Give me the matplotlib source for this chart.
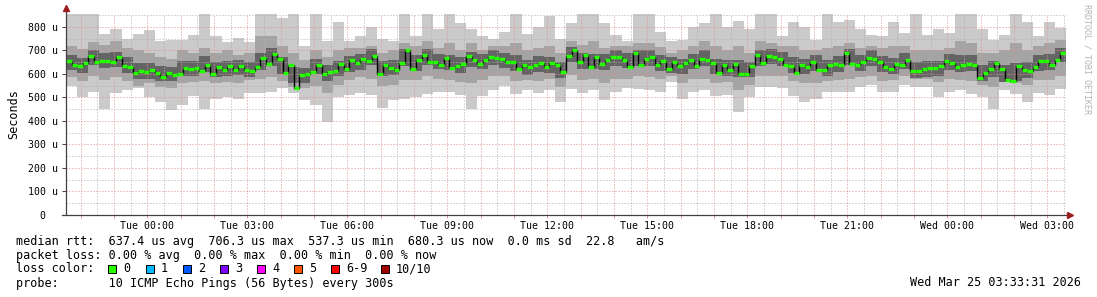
import matplotlib
matplotlib.use('Agg')
import matplotlib.pyplot as plt
import numpy as np
from matplotlib.patches import Rectangle

# time axis in hours relative to Tue 00:00
t_start = -2.4414
t_end = 27.5586

# median rtt (us), 10 minute steps
med_rtt = [
    655, 640, 632, 645, 678, 650, 655, 653, 650, 670, 635, 630, 602, 612, 608, 615, 606, 585, 603, 596, 600, 625, 622, 624, 612, 640,
    600, 628, 615, 635, 616, 635, 617, 613, 630, 667, 644, 685, 664, 605, 640, 540, 595, 600, 610, 640, 601, 610, 612, 643, 620, 660,
    645, 665, 655, 678, 600, 640, 625, 615, 648, 700, 620, 660, 680, 652, 650, 636, 667, 627, 633, 644, 675, 660, 641, 661, 672, 667,
    662, 650, 650, 622, 640, 630, 636, 647, 631, 648, 638, 608, 675, 700, 650, 680, 630, 674, 643, 660, 674, 671, 660, 630, 690, 640,
    665, 672, 640, 657, 620, 652, 635, 648, 660, 635, 665, 660, 645, 605, 640, 615, 643, 600, 600, 635, 680, 646, 675, 670, 662,
    640, 635, 606, 640, 628, 652, 615, 618, 640, 642, 636, 690, 642, 640, 650, 668, 664, 650, 628, 622, 643, 640, 660, 612, 614, 620,
    625, 624, 635, 655, 645, 630, 640, 643, 636, 584, 605, 622, 648, 620, 575, 570, 634, 617, 612, 630, 655, 655, 640, 660, 688,
]

# smoke (us), 20 minute steps
rtt_max = [
    860, 860, 860, 770, 790, 750, 770, 785, 740, 745, 745, 765, 860,
    760, 735, 755, 735, 860, 860, 840, 860, 720, 860, 740, 820, 740,
    760, 800, 750, 740, 860, 760, 860, 790, 860, 815, 790, 760, 750,
    780, 860, 770, 800, 845, 750, 815, 860, 860, 815, 765, 740, 860,
    860, 780, 740, 745, 800, 815, 860, 800, 825, 790, 860, 860, 760,
    820, 800, 745, 860, 820, 830, 790, 765, 760, 820, 775, 860, 765,
    790, 775, 860, 860, 790, 745, 765, 860, 820, 760, 820, 795,
]
rtt_hi2 = [
    720, 705, 735, 725, 740, 710, 700, 690, 670, 665, 700, 690, 710,
    690, 700, 680, 690, 760, 760, 720, 690, 660, 700, 670, 700, 710,
    710, 720, 690, 700, 730, 720, 740, 710, 730, 700, 730, 700, 720,
    720, 730, 700, 710, 720, 690, 740, 725, 740, 710, 720, 720, 730,
    730, 715, 690, 700, 720, 740, 720, 700, 720, 690, 740, 730, 720,
    720, 700, 700, 710, 720, 730, 710, 720, 710, 720, 720, 700, 700,
    700, 710, 740, 730, 690, 690, 700, 730, 700, 720, 730, 745,
]
rtt_hi1 = [
    680, 668, 700, 690, 695, 670, 645, 645, 635, 630, 655, 655, 675,
    650, 655, 660, 650, 690, 710, 670, 630, 625, 665, 640, 655, 675,
    685, 705, 655, 660, 705, 680, 705, 685, 680, 670, 695, 685, 700,
    690, 680, 660, 675, 670, 650, 715, 690, 685, 685, 700, 690, 700,
    700, 680, 670, 665, 685, 700, 665, 660, 660, 650, 700, 705, 695,
    670, 665, 680, 660, 675, 705, 680, 700, 675, 668, 690, 650, 655,
    655, 685, 680, 680, 640, 655, 640, 645, 650, 680, 685, 712,
]
rtt_lo1 = [
    618, 605, 640, 625, 628, 605, 578, 580, 570, 570, 590, 592, 610,
    585, 590, 595, 585, 615, 635, 598, 560, 562, 598, 572, 590, 610,
    618, 638, 590, 595, 635, 612, 640, 620, 615, 605, 628, 620, 636,
    625, 612, 595, 610, 605, 582, 650, 622, 620, 618, 635, 625, 632,
    635, 612, 605, 598, 620, 632, 598, 592, 585, 585, 635, 642, 632,
    605, 600, 612, 592, 608, 638, 612, 632, 608, 600, 622, 582, 588,
    592, 618, 608, 612, 568, 588, 565, 572, 582, 612, 618, 650,
]
rtt_lo2 = [
    585, 570, 590, 575, 585, 570, 550, 560, 545, 540, 560, 565, 570,
    560, 565, 560, 575, 580, 585, 570, 545, 540, 550, 520, 555, 575,
    585, 580, 550, 555, 575, 575, 590, 580, 575, 565, 560, 575, 590,
    590, 570, 575, 570, 580, 545, 595, 575, 580, 560, 580, 580, 590,
    585, 580, 590, 560, 580, 580, 560, 565, 530, 555, 590, 590, 590,
    570, 560, 560, 570, 575, 580, 585, 590, 570, 575, 590, 580, 580,
    565, 580, 575, 570, 555, 545, 575, 560, 555, 575, 575, 590,
]
rtt_min = [
    550, 500, 525, 450, 520, 530, 540, 500, 480, 445, 470, 505, 450,
    495, 500, 495, 520, 520, 525, 540, 520, 490, 470, 395, 500, 510,
    520, 510, 455, 490, 495, 500, 515, 525, 525, 510, 450, 505, 530,
    550, 515, 530, 520, 530, 480, 535, 520, 530, 490, 525, 540, 535,
    530, 525, 565, 495, 525, 530, 505, 510, 440, 500, 545, 545, 540,
    505, 480, 495, 525, 525, 525, 545, 555, 525, 525, 555, 545, 545,
    500, 525, 530, 515, 500, 450, 530, 515, 480, 520, 510, 535,
]

tick_hours = [0, 3, 6, 9, 12, 15, 18, 21, 24, 27]
tick_labels = ['Tue 00:00', 'Tue 03:00', 'Tue 06:00', 'Tue 09:00', 'Tue 12:00',
               'Tue 15:00', 'Tue 18:00', 'Tue 21:00', 'Wed 00:00', 'Wed 03:00']
y_ticks = [0, 100, 200, 300, 400, 500, 600, 700, 800]
y_labels = ['0  ', '100 u', '200 u', '300 u', '400 u', '500 u', '600 u', '700 u', '800 u']

loss_colors = ['#26ff00', '#00b8ff', '#0059ff', '#7e00ff', '#ff00ff', '#ff5500', '#ff0000', '#a10000']
loss_labels = ['0', '1', '2', '3', '4', '5', '6-9', '10/10']

MONO = 'DejaVu Sans Mono'
W, H = 1097, 297


def px(x, y):
    return x / W, 1 - y / H


fig = plt.figure(figsize=(W / 100, H / 100), dpi=100)
fig.patch.set_facecolor('white')
ax = fig.add_axes([66 / W, 1 - 215 / H, 1000 / W, 201 / H])
ax.set_xlim(t_start, t_end)
ax.set_ylim(0, 855)

med_edges = t_start + np.arange(len(med_rtt) + 1) / 6
band_edges = t_start + np.arange(len(rtt_max) + 1) / 3

ax.stairs(rtt_max, band_edges, baseline=rtt_min, fill=True, color='#cacaca', lw=0, zorder=1)
ax.stairs(rtt_hi2, band_edges, baseline=rtt_lo2, fill=True, color='#a4a4a4', lw=0, zorder=1.1)
ax.stairs(rtt_hi1, band_edges, baseline=rtt_lo1, fill=True, color='#646464', lw=0, zorder=1.2)

# grid on top of the smoke, rrdtool style dotted
dot = (0, (1, 2))
for h in np.arange(-2.5, 28, 1.0):
    ax.axvline(h, color='#b0b0b0', lw=0.72, ls=dot, zorder=2)
for h in np.arange(-2, 28, 1.0):
    ax.axvline(h, color='#e88f8f', lw=0.72, ls=dot, zorder=2)
for v in range(50, 851, 100):
    ax.axhline(v, color='#b0b0b0', lw=0.72, ls=dot, zorder=2)
for v in range(100, 801, 100):
    ax.axhline(v, color='#e88f8f', lw=0.72, ls=dot, zorder=2)

ax.stairs(med_rtt, med_edges, baseline=None, color='black', lw=1.0, zorder=3)
ax.hlines(med_rtt, med_edges[:-1], med_edges[1:], color=loss_colors[0], lw=2.4, zorder=4)

for s in ax.spines.values():
    s.set_visible(False)
ax.set_facecolor('white')

ax.set_xticks(tick_hours)
ax.set_xticklabels(tick_labels, fontfamily=MONO, fontsize=7.1)
ax.set_xticks(np.arange(-2, 28, 1.0), minor=True)
ax.tick_params(axis='x', which='both', length=2.5, width=0.7, color='#e88f8f', pad=1.5)
ax.set_yticks(y_ticks)
ax.set_yticklabels(y_labels, fontfamily=MONO, fontsize=7.1)
ax.tick_params(axis='y', length=3, width=0.7, color='#404040', pad=2.5)

# axes with arrows
ax.plot([0, 0], [0, 1.03], transform=ax.transAxes, color='#404040', lw=0.9, clip_on=False, zorder=5)
ax.plot([-0.004, 1.003], [0, 0], transform=ax.transAxes, color='#404040', lw=0.9, clip_on=False, zorder=5)
ax.plot([0], [1.03], transform=ax.transAxes, marker='^', ms=4, color='#9b1c1c', clip_on=False, zorder=6)
ax.plot([1.004], [0], transform=ax.transAxes, marker='>', ms=4, color='#9b1c1c', clip_on=False, zorder=6)

ax.set_ylabel('Seconds', fontfamily=MONO, fontsize=8.5, labelpad=6)

fs = 8.5
fig.text(*px(16, 241), 'median rtt:  637.4 us avg  706.3 us max  537.3 us min  680.3 us now  0.0 ms sd  22.8   am/s',
         fontfamily=MONO, fontsize=fs, va='center')
fig.text(*px(16, 255), 'packet loss: 0.00 % avg  0.00 % max  0.00 % min  0.00 % now',
         fontfamily=MONO, fontsize=fs, va='center')
fig.text(*px(16, 269), 'loss color:', fontfamily=MONO, fontsize=fs, va='center')
box_x = [108, 146, 183, 220, 257, 294, 331, 381]
for bx, col, lab in zip(box_x, loss_colors, loss_labels):
    fig.patches.append(Rectangle(px(bx, 273), 8 / W, 8 / H, transform=fig.transFigure,
                                 facecolor=col, edgecolor='black', lw=0.7))
    fig.text(*px(bx + 15, 269), lab, fontfamily=MONO, fontsize=fs, va='center')
fig.text(*px(16, 283), 'probe:       10 ICMP Echo Pings (56 Bytes) every 300s',
         fontfamily=MONO, fontsize=fs, va='center')
fig.text(*px(1081, 283), 'Wed Mar 25 03:33:31 2026', fontfamily=MONO, fontsize=fs, va='center', ha='right')
fig.text(*px(1087, 4), 'RRDTOOL / TOBI OETIKER', fontfamily=MONO, fontsize=6, color='#b4b4b4',
         rotation=270, ha='center', va='top')

fig.savefig('out.png', dpi=100, facecolor='white')
